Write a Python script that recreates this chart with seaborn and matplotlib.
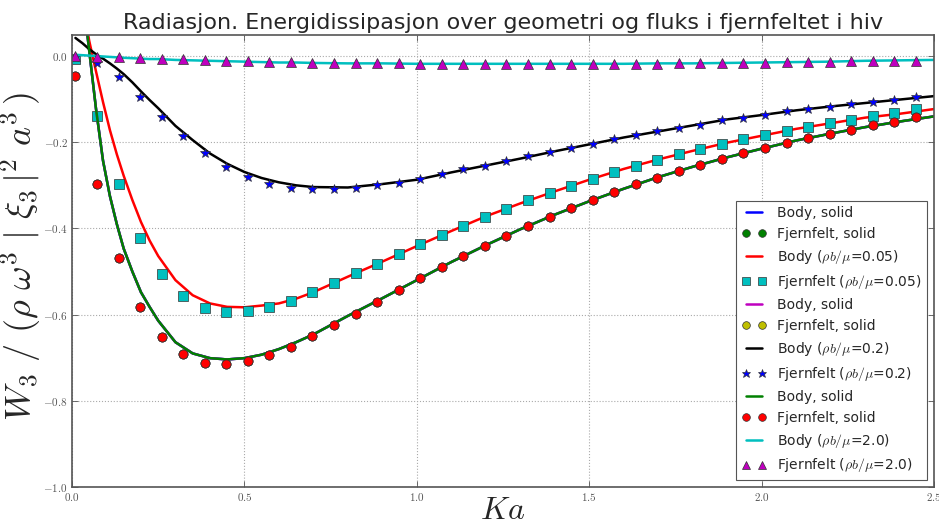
import numpy as np
import matplotlib
matplotlib.use("Agg")
import matplotlib.pyplot as plt
from matplotlib.ticker import FuncFormatter, MultipleLocator
import seaborn as sns

# ---------------- data ----------------
# marker grid (Ka)
x_pts = [0.01 + 0.0625 * k for k in range(40)]

fjern_solid = [-0.046, -0.297, -0.468, -0.582, -0.652, -0.692, -0.712, -0.715, -0.708, -0.694,
               -0.674, -0.650, -0.625, -0.598, -0.570, -0.543, -0.516, -0.490, -0.464, -0.440,
               -0.417, -0.394, -0.373, -0.353, -0.334, -0.316, -0.298, -0.282, -0.267, -0.252,
               -0.238, -0.226, -0.213, -0.202, -0.190, -0.180, -0.171, -0.161, -0.152, -0.142]
fjern_005 = [-0.008, -0.139, -0.298, -0.423, -0.506, -0.557, -0.585, -0.595, -0.592, -0.583,
             -0.568, -0.548, -0.527, -0.504, -0.483, -0.460, -0.437, -0.415, -0.394, -0.373,
             -0.354, -0.335, -0.318, -0.301, -0.285, -0.269, -0.254, -0.241, -0.228, -0.216,
             -0.204, -0.193, -0.184, -0.173, -0.165, -0.156, -0.148, -0.140, -0.131, -0.123]
fjern_02 = [-0.002, -0.015, -0.049, -0.094, -0.142, -0.186, -0.226, -0.257, -0.280, -0.297,
            -0.307, -0.309, -0.309, -0.306, -0.300, -0.295, -0.285, -0.274, -0.263, -0.254,
            -0.244, -0.233, -0.223, -0.213, -0.203, -0.192, -0.183, -0.175, -0.166, -0.159,
            -0.149, -0.143, -0.137, -0.128, -0.123, -0.118, -0.112, -0.107, -0.101, -0.096]
fjern_20 = [-0.001, -0.002, -0.003, -0.004, -0.006, -0.008, -0.009, -0.011, -0.012, -0.013,
            -0.014, -0.015, -0.016, -0.016, -0.017, -0.017, -0.018, -0.018, -0.019, -0.019,
            -0.019, -0.019, -0.019, -0.019, -0.019, -0.019, -0.018, -0.018, -0.017, -0.017,
            -0.016, -0.015, -0.015, -0.014, -0.013, -0.013, -0.012, -0.012, -0.011, -0.011]

# line grid (Ka)
x_line = [0.01, 0.03, 0.05, 0.07, 0.09, 0.11, 0.13, 0.15, 0.175, 0.2, 0.225, 0.25, 0.3, 0.35,
          0.4, 0.45, 0.5, 0.55, 0.6, 0.65, 0.7, 0.8, 0.9, 1.0, 1.1, 1.2, 1.3, 1.4, 1.5, 1.6,
          1.7, 1.8, 1.9, 2.0, 2.1, 2.2, 2.3, 2.4, 2.5]

body_solid = [0.30, 0.15, 0.012, -0.125, -0.243, -0.325, -0.390, -0.447, -0.500, -0.548, -0.582,
              -0.614, -0.664, -0.690, -0.701, -0.704, -0.701, -0.693, -0.680, -0.664, -0.646,
              -0.603, -0.562, -0.520, -0.478, -0.439, -0.402, -0.368, -0.337, -0.308, -0.281,
              -0.257, -0.235, -0.215, -0.196, -0.180, -0.165, -0.152, -0.140]
body_005 = [0.22, 0.13, 0.035, -0.037, -0.107, -0.172, -0.228, -0.278, -0.334, -0.385, -0.428,
            -0.464, -0.520, -0.555, -0.574, -0.582, -0.583, -0.579, -0.574, -0.563, -0.548,
            -0.512, -0.477, -0.441, -0.406, -0.372, -0.342, -0.314, -0.287, -0.262, -0.240,
            -0.220, -0.201, -0.185, -0.169, -0.156, -0.143, -0.134, -0.123]
body_02 = [0.042, 0.030, 0.016, 0.004, -0.006, -0.017, -0.029, -0.042, -0.061, -0.082, -0.102,
           -0.121, -0.162, -0.195, -0.226, -0.250, -0.269, -0.283, -0.293, -0.300, -0.304,
           -0.305, -0.297, -0.287, -0.270, -0.254, -0.238, -0.221, -0.205, -0.189, -0.175,
           -0.161, -0.147, -0.137, -0.126, -0.117, -0.109, -0.101, -0.093]
body_20 = [0.003, 0.002, 0.001, 0.0, -0.001, -0.002, -0.003, -0.004, -0.005, -0.006, -0.007,
           -0.007, -0.009, -0.010, -0.011, -0.012, -0.013, -0.014, -0.015, -0.015, -0.016,
           -0.017, -0.017, -0.018, -0.018, -0.018, -0.018, -0.018, -0.018, -0.018, -0.017,
           -0.017, -0.016, -0.015, -0.014, -0.013, -0.011, -0.010, -0.009]

lab_rho = r"($\rho b/\mu$={})"

# ---------------- style ----------------
sns.set_theme(style="white")
plt.rcParams["font.family"] = ["DejaVu Sans"]
plt.rcParams["mathtext.fontset"] = "cm"

fig = plt.figure(figsize=(9.39, 5.27), dpi=100)
ax = fig.add_axes([72 / 939, 1 - 487 / 527, (934 - 72) / 939, (487 - 34.5) / 527])

LW = 1.8
MS = 6.5


def body(y, color, label):
    sns.lineplot(x=x_line, y=y, ax=ax, color=color, linewidth=LW, label=label,
                 sort=False, errorbar=None, estimator=None)


def fjern(y, color, marker, label, ms=MS):
    sns.lineplot(x=x_pts, y=y, ax=ax, color=color, linestyle="", marker=marker,
                 markersize=ms, markeredgecolor="#333333", markeredgewidth=0.5,
                 label=label, sort=False, errorbar=None, estimator=None)


body(body_solid, (0, 0, 1), "Body, solid")
fjern(fjern_solid, (0, 0.5, 0), "o", "Fjernfelt, solid")
body(body_005, (1, 0, 0), "Body " + lab_rho.format("0.05"))
fjern(fjern_005, (0, 0.75, 0.75), "s", "Fjernfelt " + lab_rho.format("0.05"))
body(body_solid, (0.75, 0, 0.75), "Body, solid")
fjern(fjern_solid, (0.75, 0.75, 0), "o", "Fjernfelt, solid")
body(body_02, (0, 0, 0), "Body " + lab_rho.format("0.2"))
fjern(fjern_02, (0, 0, 1), "*", "Fjernfelt " + lab_rho.format("0.2"), ms=7.5)
body(body_solid, (0, 0.5, 0), "Body, solid")
fjern(fjern_solid, (1, 0, 0), "o", "Fjernfelt, solid")
body(body_20, (0, 0.75, 0.75), "Body " + lab_rho.format("2.0"))
fjern(fjern_20, (0.75, 0, 0.75), "^", "Fjernfelt " + lab_rho.format("2.0"))

ax.set_xlim(0, 2.5)
ax.set_ylim(-1.0, 0.05)
ax.xaxis.set_major_locator(MultipleLocator(0.5))
ax.yaxis.set_major_locator(MultipleLocator(0.2))
fmt = FuncFormatter(lambda v, p: r"${:.1f}$".format(v))
ax.xaxis.set_major_formatter(fmt)
ax.yaxis.set_major_formatter(fmt)
ax.tick_params(axis="both", which="major", direction="in", length=4, width=0.6,
               labelsize=8, colors="#555555", top=True, right=True, bottom=True, left=True,
               pad=3)
ax.grid(True, linestyle=":", color="#aaaaaa", linewidth=0.8)
for s in ax.spines.values():
    s.set_color("#555555")
    s.set_linewidth(1.2)

ax.set_title("Radiasjon. Energidissipasjon over geometri og fluks i fjernfeltet i hiv",
             fontsize=16, pad=4)
ax.set_xlabel(r"$Ka$", fontsize=23)
ax.xaxis.set_label_coords(0.5, -(495 - 487) / 452.5)
ax.xaxis.label.set_va("top")
ax.set_ylabel(r"$W_3\ /\ (\rho\ \omega^3\ |\ \xi_3\,|^2\ a^3\,)$", fontsize=26)
ax.yaxis.set_label_coords(-(72 - 43) / 862, 0.51)

leg = ax.legend(loc="lower right", fontsize=10, numpoints=2, handlelength=1.75,
                fancybox=False, framealpha=1, edgecolor="#555555", labelspacing=0.5,
                borderpad=0.4, markerscale=0.85)
leg.get_frame().set_linewidth(0.8)

fig.savefig("out.png", dpi=100)
